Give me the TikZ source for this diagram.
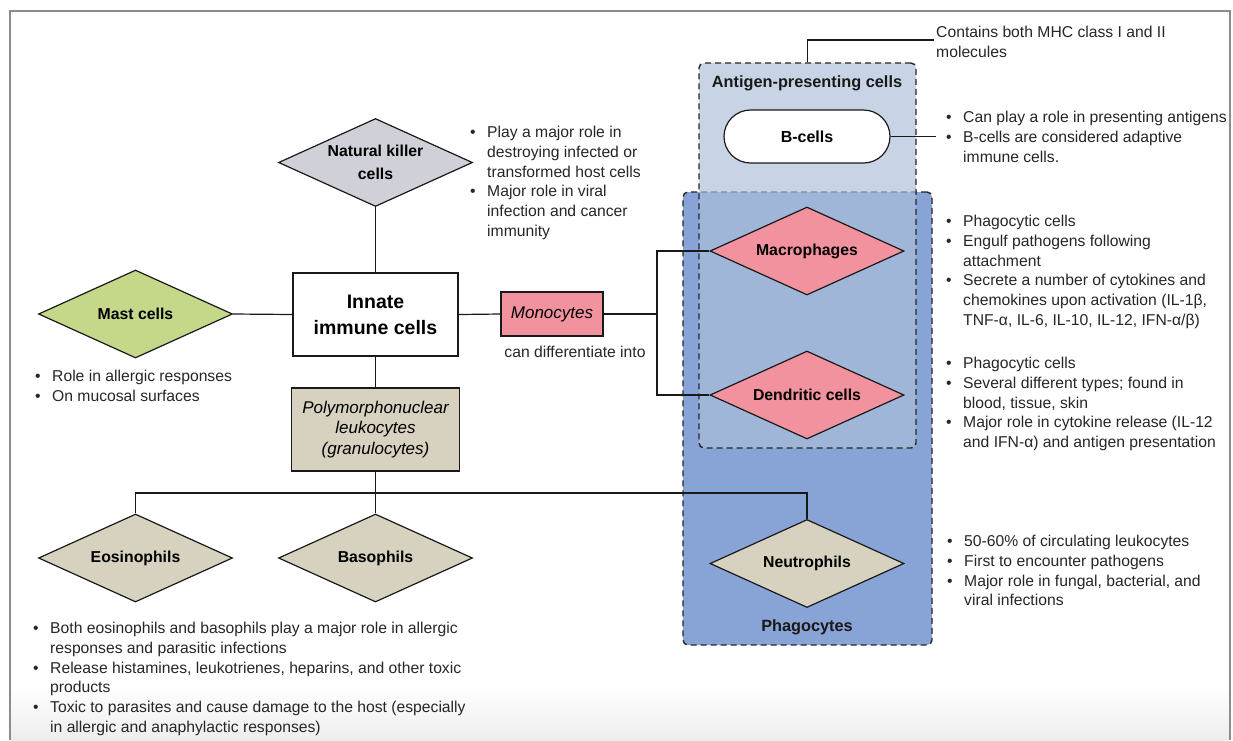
\documentclass[tikz,border=0pt]{standalone}
\usepackage{fontspec}
\setmainfont{Liberation Sans}
\usetikzlibrary{shapes.geometric}
\definecolor{apcbase}{RGB}{173,192,218}
\definecolor{phago}{HTML}{88A3D6}
\definecolor{pinkc}{HTML}{F2929F}
\definecolor{tanc}{HTML}{D7D2BF}
\definecolor{mastc}{HTML}{C5D88A}
\definecolor{nkc}{HTML}{D0D0D8}
\definecolor{framec}{HTML}{8C8C8C}
\newcommand\bulit{\makebox[17pt][l]{\textbullet}}
\newcommand\contin{\hspace*{17pt}}
\begin{document}
\begin{tikzpicture}[x=1pt,y=-1pt,
  txt/.style={font=\fontsize{15.7}{19.8}\selectfont, text=black!85},
  list/.style={txt, anchor=north west, align=left, inner sep=0pt},
  dia/.style={diamond, draw=black!90, line width=1.2pt, aspect=2.4, minimum width=194pt, minimum height=88pt, inner sep=0pt, align=center, font=\bfseries\fontsize{15.8}{23}\selectfont},
  box/.style={rectangle, draw=black!90, line width=1.2pt, align=center, inner sep=0pt},
  grp/.style={rectangle, rounded corners=5pt, draw=black!85, line width=1.4pt, dash pattern=on 6pt off 4pt},
  conn/.style={draw=black!90, line width=1.2pt},
  lbl/.style={font=\bfseries\fontsize{16.3}{19}\selectfont, text=black!90}
]
\useasboundingbox (0,0) rectangle (1233,740);
\fill[white] (0,0) rectangle (1233,740);
\shade[top color=white, bottom color=black!7] (10,685) rectangle (1229,740);
\draw[framec, line width=2pt] (9.5,740) -- (9.5,10.5) -- (1229.5,10.5) -- (1229.5,740);

% group boxes
\node[grp, fill=phago, minimum width=249pt, minimum height=453pt] (phbox) at (807.5,418.5) {};
\node[grp, fill=apcbase, fill opacity=0.67, minimum width=217pt, minimum height=385pt] (apcbox) at (807.5,255.5) {};
\node[lbl] (apclbl) at (807,83) {Antigen-presenting cells};
\node[lbl] (phlbl) at (807,627) {Phagocytes};

% cell nodes
\node[box, rounded corners=26.5pt, fill=white, minimum width=166pt, minimum height=53pt, font=\bfseries\fontsize{16}{19}\selectfont] (bcell) at (807,136.5) {B-cells};
\node[dia, fill=pinkc] (macro) at (807,251) {Macrophages};
\node[dia, fill=pinkc] (dend) at (807,395) {Dendritic cells};
\node[dia, fill=tanc] (neut) at (807,563.5) {Neutrophils};
\node[dia, fill=nkc] (nk) at (375.5,162.5) {\raisebox{-2pt}{Natural killer}\\\raisebox{-2pt}{cells}};
\node[dia, fill=mastc] (mast) at (135.5,314) {Mast cells};
\node[dia, fill=tanc] (eos) at (135.5,558) {Eosinophils};
\node[dia, fill=tanc] (baso) at (375.5,558) {Basophils};
\node[box, fill=white, minimum width=165pt, minimum height=83pt, font=\bfseries\fontsize{19.5}{26}\selectfont] (innate) at (375.5,314.5) {Innate\\immune cells};
\node[box, fill=pinkc, minimum width=102pt, minimum height=44pt, font=\itshape\fontsize{17}{20}\selectfont] (mono) at (552,314) {Monocytes};
\node[txt] (diff) at (575,352) {can differentiate into};
\node[box, fill=tanc, minimum width=168pt, minimum height=83pt, font=\itshape\fontsize{17}{20.5}\selectfont] (pmn) at (375.5,429.5) {Polymorphonuclear\\leukocytes\\(granulocytes)};

% free ends
\coordinate (split) at (657,0);
\coordinate (bus) at (0,493);
\coordinate (bend) at (936,136.5);
\coordinate (cend) at (934,40);

% connectors
\draw[conn] (nk.south) -- (innate.north);
\draw[conn] (mast.east) -- (innate.west);
\draw[conn] (innate.east) -- (mono.west);
\draw[conn] (innate.south) -- (pmn.north);
\draw[conn] (mono.east) -- (mono.east -| split);
\draw[conn] (macro.west) -- (macro.west -| split) -- (dend.west -| split) -- (dend.west);
\draw[conn] (pmn.south) -- (baso.north);
\draw[conn] (eos.north) -- (eos.north |- bus) -- (neut.north |- bus) -- (neut.north);
\draw[conn] (bcell.east) -- (bend);
\draw[conn] (apcbox.north) |- (cend);

% texts
\node[list] (mhc) at (936,26) {Contains both MHC class I and II\\molecules};
\node[list] (blist) at (946,111) {\bulit Can play a role in presenting antigens\\\bulit B-cells are considered adaptive\\\contin immune cells.};
\node[list] (nklist) at (470,126) {\bulit Play a major role in\\\contin destroying infected or\\\contin transformed host cells\\\bulit Major role in viral\\\contin infection and cancer\\\contin immunity};
\node[list] (mlist) at (946,215) {\bulit Phagocytic cells\\\bulit Engulf pathogens following\\\contin attachment\\\bulit Secrete a number of cytokines and\\\contin chemokines upon activation (IL-1β,\\\contin TNF-α, IL-6, IL-10, IL-12, IFN-α/β)};
\node[list] (dlist) at (946,357) {\bulit Phagocytic cells\\\bulit Several different types; found in\\\contin blood, tissue, skin\\\bulit Major role in cytokine release (IL-12\\\contin and IFN-α) and antigen presentation};
\node[list] (nlist) at (947,535) {\bulit 50-60\% of circulating leukocytes\\\bulit First to encounter pathogens\\\bulit Major role in fungal, bacterial, and\\\contin viral infections};
\node[list] (mastlist) at (35,370) {\bulit Role in allergic responses\\\bulit On mucosal surfaces};
\node[list] (glist) at (33,622) {\bulit Both eosinophils and basophils play a major role in allergic\\\contin responses and parasitic infections\\\bulit Release histamines, leukotrienes, heparins, and other toxic\\\contin products\\\bulit Toxic to parasites and cause damage to the host (especially\\\contin in allergic and anaphylactic responses)};
\end{tikzpicture}
\end{document}
